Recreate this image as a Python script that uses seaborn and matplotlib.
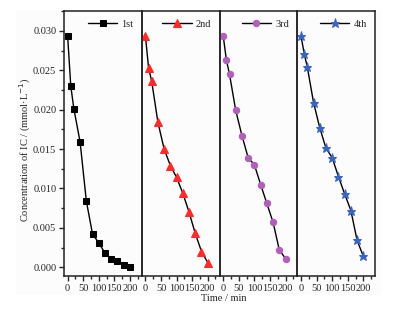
import numpy as np
import pandas as pd
import seaborn as sns
import matplotlib.pyplot as plt
from matplotlib.ticker import MultipleLocator
from matplotlib.patches import Rectangle

# time points (min)
time = [0, 10, 20, 40, 60, 80, 100, 120, 140, 160, 180, 200]

# IC concentration per run (mmol/L)
run1 = [0.0293, 0.0230, 0.0201, 0.0159, 0.0084, 0.0042, 0.0031, 0.0018, 0.0011, 0.0008, 0.0003, 0.0000]
run2 = [0.0293, 0.0253, 0.0236, 0.0184, 0.0150, 0.0129, 0.0114, 0.0094, 0.0070, 0.0043, 0.0020, 0.0006]
run3 = [0.0293, 0.0263, 0.0245, 0.0199, 0.0167, 0.0139, 0.0130, 0.0105, 0.0081, 0.0057, 0.0022, 0.0011]
run4 = [0.0293, 0.0271, 0.0254, 0.0209, 0.0177, 0.0151, 0.0139, 0.0115, 0.0093, 0.0072, 0.0034, 0.0014]

labels = ["1st", "2nd", "3rd", "4th"]
runs = [run1, run2, run3, run4]
markers = ["s", "^", "o", "*"]
colors = ["black", "#ff2a2a", "#b060b8", "#3a64c0"]
msizes = [4.2, 5.2, 4.6, 6.8]

df = pd.DataFrame({
    "time": time * 4,
    "conc": run1 + run2 + run3 + run4,
    "run": np.repeat(labels, len(time)),
})

sns.set_style("ticks")
plt.rcParams["font.family"] = ["Liberation Serif", "DejaVu Serif"]
plt.rcParams["font.size"] = 7.5

fig = plt.figure(figsize=(3.97, 3.09), dpi=100)
fig.patches.append(Rectangle((0.04, 0.045), 0.92, 0.92, transform=fig.transFigure,
                             facecolor="#fcfcfc", edgecolor="none", zorder=-10))

left, right, bottom, top = 0.161, 0.945, 0.107, 0.964
w = (right - left) / 4
axes = []
for i in range(4):
    ax = fig.add_axes([left + i * w, bottom, w, top - bottom])
    axes.append(ax)
    sub = df[df["run"] == labels[i]]
    sns.lineplot(data=sub, x="time", y="conc", ax=ax, color="black", lw=1.0,
                 marker=markers[i], markersize=msizes[i], markerfacecolor=colors[i],
                 markeredgecolor=colors[i], label=labels[i], errorbar=None)
    ax.set_xlim(-12, 238)
    ax.set_ylim(-0.0011, 0.0325)
    ax.set_facecolor("none")
    ax.xaxis.set_major_locator(MultipleLocator(50))
    ax.xaxis.set_minor_locator(MultipleLocator(25))
    ax.yaxis.set_major_locator(MultipleLocator(0.005))
    ax.yaxis.set_minor_locator(MultipleLocator(0.0025))
    ax.tick_params(which="major", direction="out", length=3.5, width=1, pad=2, labelsize=7.5)
    ax.tick_params(which="minor", direction="out", length=2, width=1)
    for s in ax.spines.values():
        s.set_visible(True)
        s.set_linewidth(1.1)
        s.set_color("#222222")
    ax.set_xlabel("")
    ax.set_ylabel("")
    if i == 0:
        ax.yaxis.set_major_formatter(plt.FuncFormatter(lambda v, p: f"{v:.3f}"))
    else:
        ax.tick_params(axis="y", which="both", left=False, labelleft=False)
    leg = ax.legend(loc="upper right", frameon=False, fontsize=7.5, handlelength=2.8,
                    borderaxespad=0.4, handletextpad=0.4)

fig.text(0.563, 0.035, "Time / min", ha="center", va="center", fontsize=7.5)
fig.text(0.063, 0.515, "Concentration of IC / (mmol·L$^{-1}$)", ha="center", va="center",
         rotation=90, fontsize=7.5)

fig.savefig("out.png", dpi=100)
